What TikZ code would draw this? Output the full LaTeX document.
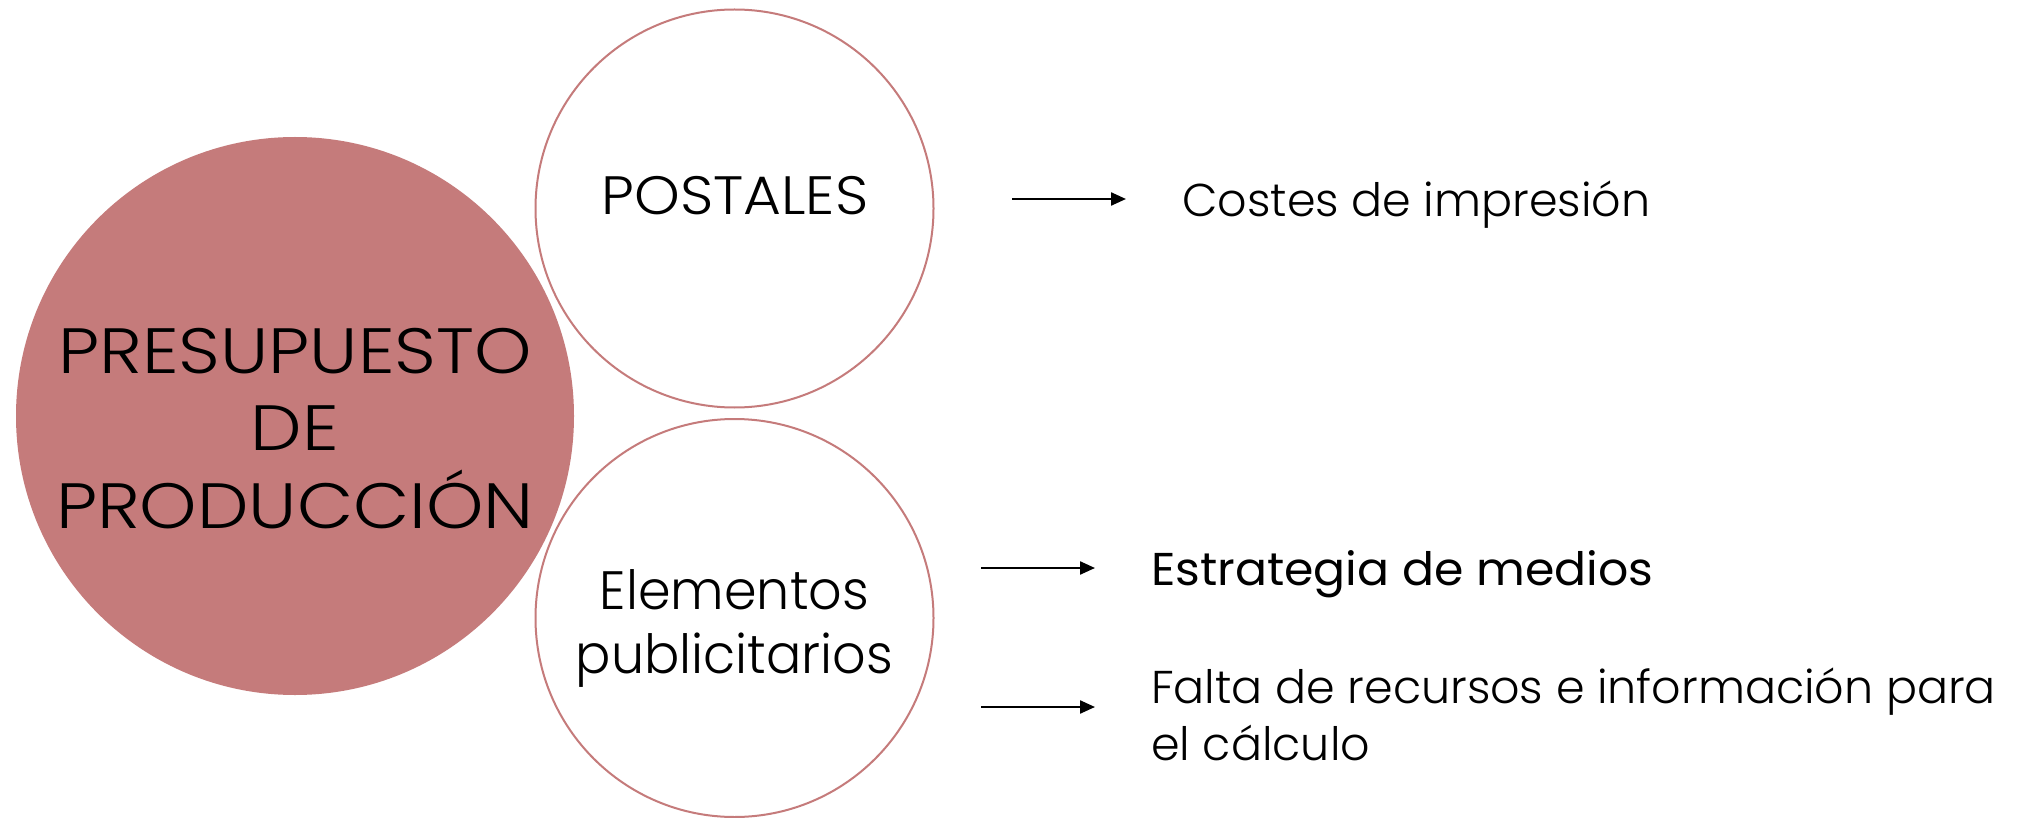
\documentclass[tikz,border=0pt]{standalone}
\usepackage{fontspec}
\setmainfont{Poppins}[UprightFont={* Light}]
\newfontfamily\regfont{Poppins}
\usetikzlibrary{arrows.meta}
\definecolor{mauve}{RGB}{197,123,123}
\tikzset{
  bigcirc/.style={circle, fill=mauve, draw=none, minimum size=558pt, inner sep=0pt},
  subcirc/.style={circle, draw=mauve, line width=2pt, fill=white, minimum size=398pt, inner sep=0pt},
  ctext/.style={align=center, inner sep=0pt, text=black},
  rtext/.style={align=left, inner sep=0pt, anchor=base west, text=black, font=\fontsize{46}{57}\selectfont},
  arr/.style={line width=2.3pt, -{Triangle[length=15pt,width=13pt]}}
}
\begin{document}
\begin{tikzpicture}[x=1pt,y=-1pt]
\useasboundingbox (0,0) rectangle (2026,818);
\node[bigcirc] (main) at (295,416) {};
\node[ctext, font=\fontsize{64}{77.5}\selectfont\addfontfeature{FakeStretch=1.14}] (maintext) at (295,428.5) {PRESUPUESTO\\DE\\PRODUCCIÓN};
\node[subcirc] (post) at (734.5,208.5) {};
\node[subcirc] (elem) at (734.5,618) {};
\node[ctext, font=\fontsize{54}{64}\selectfont\addfontfeature{FakeStretch=1.076}, anchor=base] (posttext) at (735,215) {POSTALES};
\node[ctext, font=\fontsize{54}{64}\selectfont\addfontfeature{FakeStretch=0.97}, anchor=base] (elemtext) at (734.5,673) {Elementos\\publicitarios};
\coordinate (a1s) at (1012,199);
\coordinate (a1e) at (1126,199);
\coordinate (a2s) at (981,568);
\coordinate (a2e) at (1095,568);
\coordinate (a3s) at (981,707);
\coordinate (a3e) at (1095,707);
\node[rtext] (costes) at (1182,217) {Costes de impresión};
\node[rtext, font=\fontsize{46}{57}\regfont\addfontfeature{FakeStretch=1.03}] (estr) at (1151,585) {Estrategia de medios};
\node[rtext] (falta) at (1151,760) {Falta de recursos e información para\\el cálculo};
\draw[arr] (a1s) -- (a1e);
\draw[arr] (a2s) -- (a2e);
\draw[arr] (a3s) -- (a3e);
\end{tikzpicture}
\end{document}
